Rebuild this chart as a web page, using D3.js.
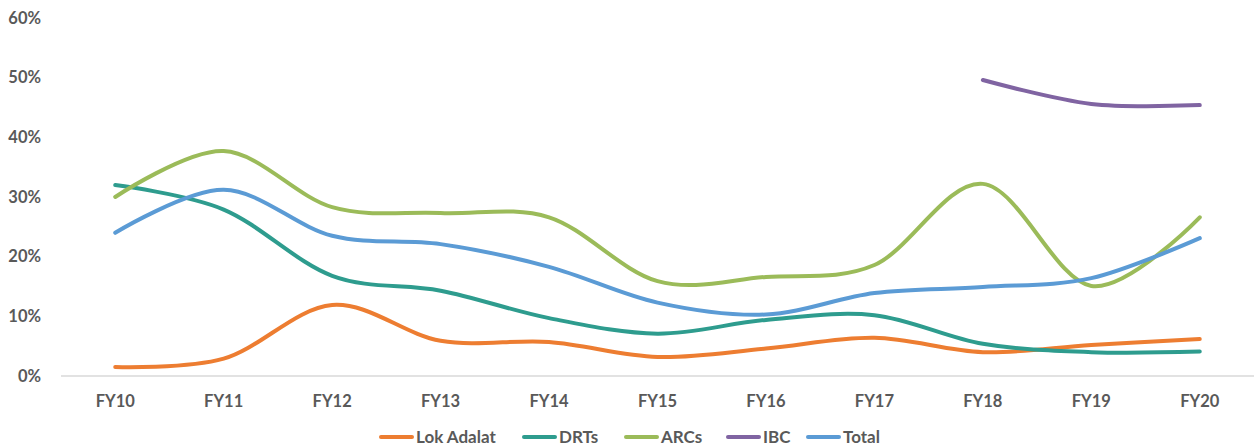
<!DOCTYPE html>
<html><head><meta charset="utf-8">
<script src="https://cdn.jsdelivr.net/npm/d3@7"></script>
<style>body{margin:0;background:#fff;} text{font-family:Lato,"Open Sans",sans-serif;font-weight:bold;fill:#595959;}</style>
</head><body>
<svg id="c" width="1255" height="447"></svg>
<script>
const categories = ["FY10","FY11","FY12","FY13","FY14","FY15","FY16","FY17","FY18","FY19","FY20"];
const yTicks = [0,0.1,0.2,0.3,0.4,0.5,0.6];
const lokAdalat = [0.015,0.029,0.119,0.059,0.057,0.032,0.046,0.064,0.040,0.052,0.062];
const drts      = [0.320,0.279,0.168,0.143,0.097,0.071,0.094,0.102,0.054,0.040,0.041];
const arcs      = [0.300,0.377,0.283,0.273,0.266,0.159,0.166,0.186,0.322,0.151,0.266];
const ibc       = [null,null,null,null,null,null,null,null,0.496,0.456,0.454];
const total     = [0.240,0.312,0.235,0.221,0.183,0.123,0.103,0.139,0.149,0.164,0.231];
const seriesNames = ["Lok Adalat","DRTs","ARCs","IBC","Total"];
const seriesColors = ["#ED7D31","#2E9C8E","#9BBB59","#8064A2","#5B9BD5"];
const seriesData = [lokAdalat,drts,arcs,ibc,total];

const svg = d3.select("#c");
const x = d3.scaleBand().domain(categories).range([61,1254]);
const y = d3.scaleLinear().domain([0,0.6]).range([376,18]);

// y labels
svg.append("g").selectAll("text").data(yTicks).join("text")
  .attr("x",41).attr("y",d=>y(d)).attr("dy","0.35em").attr("text-anchor","end")
  .style("font-size","16.5px").text(d=>d3.format(".0%")(d));
// baseline
svg.append("line").attr("x1",61).attr("x2",1254).attr("y1",y(0)).attr("y2",y(0))
  .attr("stroke","#d9d9d9").attr("stroke-width",1.3);
// x labels
svg.append("g").selectAll("text").data(categories).join("text")
  .attr("x",d=>x(d)+x.bandwidth()/2).attr("y",401).attr("dy","0.35em").attr("text-anchor","middle")
  .style("font-size","16.5px").text(d=>d);

const line = d3.line()
  .defined(d=>d.v!=null)
  .x(d=>x(d.c)+x.bandwidth()/2).y(d=>y(d.v))
  .curve(d3.curveCardinal.tension(0));

seriesData.forEach((s,i)=>{
  const pts = categories.map((c,j)=>({c, v: s[j]})).filter(p=>p.v!=null);
  svg.append("path").datum(pts).attr("d",line)
    .attr("fill","none").attr("stroke",seriesColors[i]).attr("stroke-width",4)
    .attr("stroke-linecap","round").attr("stroke-linejoin","round");
});

// legend
const legX = [379,522,624,726,806];
const lg = svg.append("g");
seriesNames.forEach((n,i)=>{
  lg.append("line").attr("x1",legX[i]+2).attr("x2",legX[i]+33).attr("y1",437).attr("y2",437)
    .attr("stroke",seriesColors[i]).attr("stroke-width",4).attr("stroke-linecap","round");
  lg.append("text").attr("x",legX[i]+37).attr("y",437).attr("dy","0.35em")
    .style("font-size","17px").text(n);
});
</script>
</body></html>
